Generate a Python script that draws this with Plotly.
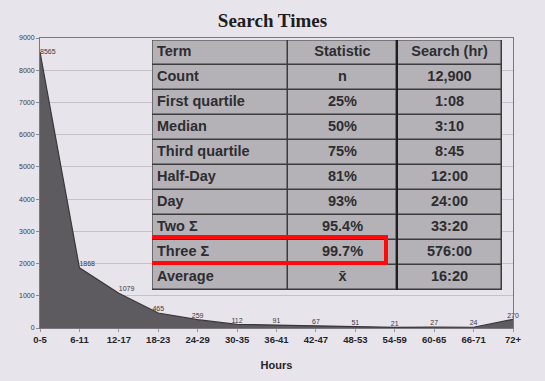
import plotly.graph_objects as go

# Distribution of search durations by hour bucket
hour_bins = ["0-5", "6-11", "12-17", "18-23", "24-29", "30-35", "36-41",
             "42-47", "48-53", "54-59", "60-65", "66-71", "72+"]
search_counts = [8565, 1868, 1079, 465, 259, 112, 91, 67, 51, 21, 27, 24, 270]

# Summary statistics table
terms = ["Count", "First quartile", "Median", "Third quartile", "Half-Day",
         "Day", "Two \u03a3", "Three \u03a3", "Average"]
statistics = ["n", "25%", "50%", "75%", "81%", "93%", "95.4%", "99.7%", "x\u0304"]
search_hours = ["12,900", "1:08", "3:10", "8:45", "12:00", "24:00", "33:20",
                "576:00", "16:20"]
table_header = ["Term", "Statistic", "Search (hr)"]
highlight_term = "Three \u03a3"

W, H = 545, 381
M = dict(l=40, r=32, t=38, b=53)
plot_w = W - M["l"] - M["r"]
plot_h = H - M["t"] - M["b"]

# table frame in page pixels; its own axes use pixel-like units inside
tbl_left, tbl_right, tbl_top, row_h = 152, 502, 40, 25
col_w = [136, 109, 105]
text_pad = 5
n_rows = len(terms) + 1
tbl_bottom = tbl_top + row_h * n_rows

def px_x(p):
    return (p - M["l"]) / plot_w

def px_y(p):
    return 1 - (p - M["t"]) / plot_h

col_edges = [0]
for w in col_w:
    col_edges.append(col_edges[-1] + w)
row_edges = list(range(n_rows + 1))
row_mid = [r + 0.5 for r in range(n_rows)]

label_pos = ["middle right", "top right", "top right"] + ["top center"] * (len(hour_bins) - 3)
CELL = "#b4b2b7"
INK = "#2e2d30"
RULE = "#3c3b3e"
FONT = "Liberation Sans"

fig = go.Figure()

# area chart
fig.add_trace(go.Scatter(
    x=hour_bins, y=search_counts, mode="lines+text",
    fill="tozeroy", fillcolor="#5d5b60",
    line=dict(color="#38373a", width=1.2),
    text=[str(v) for v in search_counts], textposition=label_pos,
    textfont=dict(family=FONT, size=7, color="#3a393c"),
    cliponaxis=False, showlegend=False, hoverinfo="x+y",
))

# table: dark base, gapped cell bricks on top give the rules
fig.add_trace(go.Heatmap(
    x=[col_edges[0], col_edges[-1]], y=[row_edges[0], row_edges[-1]], z=[[0]],
    colorscale=[[0, RULE], [1, RULE]], showscale=False, hoverinfo="skip",
    xaxis="x2", yaxis="y2",
))
fig.add_trace(go.Heatmap(
    x=col_edges, y=row_edges, z=[[1] * len(col_w) for _ in range(n_rows)],
    colorscale=[[0, CELL], [1, CELL]], showscale=False, hoverinfo="skip",
    xgap=1.5, ygap=1.5, xaxis="x2", yaxis="y2",
))

columns = [[table_header[0]] + terms, [table_header[1]] + statistics,
           [table_header[2]] + search_hours]
for ci, vals in enumerate(columns):
    if ci == 0:
        xs, pos = [col_edges[0] + text_pad] * n_rows, "middle right"
    else:
        xs, pos = [(col_edges[ci] + col_edges[ci + 1]) / 2] * n_rows, "middle center"
    fig.add_trace(go.Scatter(
        x=xs, y=row_mid, mode="text", text=["<b>%s</b>" % v for v in vals],
        textposition=pos, textfont=dict(family=FONT, size=14.5, color=INK),
        showlegend=False, hoverinfo="skip", xaxis="x2", yaxis="y2",
    ))

# outer frame and heavier rule before the last column
fig.add_shape(type="rect", xref="x2", yref="y2", x0=col_edges[0], x1=col_edges[-1],
              y0=row_edges[0], y1=row_edges[-1], line=dict(color=RULE, width=1.2))
fig.add_shape(type="line", xref="x2", yref="y2", x0=col_edges[2], x1=col_edges[2],
              y0=row_edges[0], y1=row_edges[-1], line=dict(color="#1e1d20", width=2))

# red frame around the highlighted row (Term + Statistic columns)
hi = terms.index(highlight_term) + 1
fig.add_shape(type="rect", xref="x2", yref="y2",
              x0=col_edges[0] - 2, x1=col_edges[2] - 11,
              y0=hi - 0.12, y1=hi + 1 - 0.08,
              line=dict(color="#ff0a0a", width=4), fillcolor="rgba(0,0,0,0)")

fig.update_layout(
    width=W, height=H, margin=M,
    paper_bgcolor="#e8e4ec", plot_bgcolor="#e8e4ec",
    title=dict(text="<b>Search Times</b>", x=0.5, xanchor="center", y=1 - 20 / H, yanchor="middle",
               font=dict(family="Liberation Serif", size=19, color="#1e1d20")),
    xaxis=dict(type="category", range=[0, len(hour_bins) - 1],
               showgrid=False, showline=True, linecolor="#7a787d", mirror=True,
               ticks="outside", ticklen=3, tickcolor="#9a989d",
               tickfont=dict(family=FONT, size=9.5, color="#262528", weight="bold"),
               title=dict(text="<b>Hours</b>", standoff=16,
                          font=dict(family=FONT, size=11, color="#262528"))),
    yaxis=dict(range=[0, 9000], dtick=1000, showgrid=True, gridcolor="#c5c1c9",
               showline=True, linecolor="#7a787d", mirror=True, zeroline=False,
               ticks="outside", ticklen=3, tickcolor="#8a888d",
               tickfont=dict(family=FONT, size=7, color="#3a393c")),
    xaxis2=dict(domain=[px_x(tbl_left), px_x(tbl_right)], range=[col_edges[0], col_edges[-1]],
                anchor="y2", visible=False, fixedrange=True),
    yaxis2=dict(domain=[px_y(tbl_bottom), px_y(tbl_top)], range=[row_edges[-1], row_edges[0]],
                anchor="x2", visible=False, fixedrange=True),
)

fig.write_html("out.html")
